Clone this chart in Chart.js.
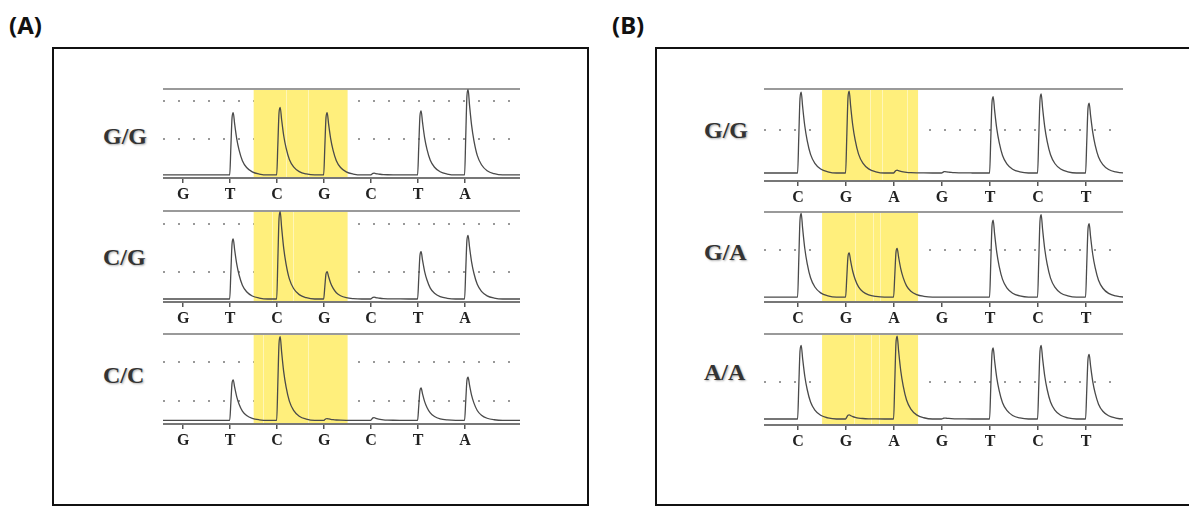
<!DOCTYPE html>
<html>
<head>
<meta charset="utf-8">
<script src="https://cdn.jsdelivr.net/npm/chart.js@4.4.1/dist/chart.umd.min.js"></script>
<style>
    body { margin: 0; background: #fff; width: 1189px; height: 507px; overflow: hidden; position: relative; }
    .panel-tag { position: absolute; font-family: "Noto Sans", sans-serif; font-weight: bold; font-size: 24px; color: #111; }
    .frame { position: absolute; border: 2.5px solid #111; box-sizing: border-box; }
    .geno { position: absolute; font-family: "Liberation Serif", serif; font-weight: bold; font-size: 24px; color: #333; text-shadow: 1px 1px 2px #aaa; line-height: 1; }
    canvas { position: absolute; }
</style>
</head>
<body>
<div class="panel-tag" style="left:9px; top:8px;">(A)</div>
<div class="panel-tag" style="left:612px; top:8px;">(B)</div>
<div class="frame" style="left:52px; top:47px; width:537px; height:459px;"></div>
<div class="frame" style="left:655px; top:47px; width:560px; height:459px;"></div>

<div class="geno" style="left:103px; top:124px;">G/G</div>
<div class="geno" style="left:103px; top:245px;">C/G</div>
<div class="geno" style="left:103px; top:363px;">C/C</div>
<div class="geno" style="left:704px; top:118px;">G/G</div>
<div class="geno" style="left:704px; top:240px;">G/A</div>
<div class="geno" style="left:704px; top:360px;">A/A</div>

<canvas id="traceA1"></canvas>
<canvas id="traceA2"></canvas>
<canvas id="traceA3"></canvas>
<canvas id="traceB1"></canvas>
<canvas id="traceB2"></canvas>
<canvas id="traceB3"></canvas>

<script>
// dispensation order
const lettersA = ["G", "T", "C", "G", "C", "T", "A"];
const lettersB = ["C", "G", "A", "G", "T", "C", "T"];

// peak heights above baseline (fraction of trace height)
const peaksA1 = [0, 0.70, 0.76, 0.70, 0.02, 0.72, 0.96];
const peaksA2 = [0, 0.66, 0.96, 0.30, 0.02, 0.52, 0.70];
const peaksA3 = [0, 0.45, 0.93, 0.02, 0.03, 0.36, 0.48];
const peaksB1 = [0.88, 0.89, 0.03, 0.015, 0.83, 0.86, 0.76];
const peaksB2 = [0.93, 0.49, 0.54, 0, 0.855, 0.915, 0.815];
const peaksB3 = [0.81, 0.045, 0.91, 0.01, 0.78, 0.81, 0.71];

const baselineA = [0.034, 0.033, 0.04];
const baselineB = [0.087, 0.055, 0.066];

// dotted guide lines
const gridA1 = [0.44, 0.865];
const gridA2 = [0.33, 0.86];
const gridA3 = [0.26, 0.69];
const gridB1 = [0.55];
const gridB2 = [0.58];
const gridB3 = [0.47];

// highlighted SNP window (in dispensation index)
const highlightA = [1.5, 3.5];
const highlightB = [0.5, 2.5];

// faint white seams inside the yellow band
const seamsA1 = [2.19, 2.66];
const seamsA2 = [1.9, 2.34];
const seamsA3 = [1.7, 2.66];
const seamsB1 = [1.5, 1.75, 2.27];
const seamsB2 = [1.19, 1.56, 1.71];
const seamsB3 = [1.17, 1.52, 1.69];

const xRangeA = [-0.43, 7.17];
const xRangeB = [-0.71, 6.77];

// shape of one peak: offset after the dispensation, fraction of its height
const peakShapeDx = [-0.01, 0.015, 0.04, 0.065, 0.095, 0.14, 0.19, 0.26, 0.35, 0.47, 0.62, 0.8];
const peakShapeF = [0, 0.45, 0.92, 1.0, 0.82, 0.58, 0.4, 0.23, 0.12, 0.05, 0.015, 0];

const AXIS_HEIGHT = 30;

const highlightPlugin = {
    id: "highlight",
    beforeDatasetsDraw: function (chart, args, opts) {
        const area = chart.chartArea;
        const xs = chart.scales.x;
        const ctx = chart.ctx;
        const x0 = xs.getPixelForValue(opts.range[0]);
        const x1 = xs.getPixelForValue(opts.range[1]);
        ctx.save();
        ctx.fillStyle = "#FFEF7C";
        ctx.fillRect(x0, area.top + 1, x1 - x0, area.bottom - area.top - 2);
        ctx.strokeStyle = "rgba(255,255,255,0.45)";
        ctx.lineWidth = 1;
        opts.seams.forEach(function (s) {
            const px = Math.round(xs.getPixelForValue(s)) + 0.5;
            ctx.beginPath();
            ctx.moveTo(px, area.top + 1);
            ctx.lineTo(px, area.bottom - 1);
            ctx.stroke();
        });
        ctx.restore();
    }
};

function buildTrace(peaks, base, range) {
    const pts = [{ x: range[0], y: base }];
    peaks.forEach(function (h, i) {
        if (h <= 0) return;
        for (let k = 0; k < peakShapeDx.length; k++) {
            pts.push({ x: i + peakShapeDx[k], y: base + h * peakShapeF[k] });
        }
    });
    pts.push({ x: range[1], y: base });
    return pts;
}

function makeTrace(id, box, letters, peaks, base, grid, range, highlight, seams) {
    const canvas = document.getElementById(id);
    canvas.width = box.width;
    canvas.height = box.axis - box.top + 2 + AXIS_HEIGHT;
    canvas.style.left = box.left + "px";
    canvas.style.top = (box.top - 2) + "px";

    const yTicks = grid.concat([1]);

    new Chart(canvas.getContext("2d"), {
        type: "line",
        data: {
            datasets: [{
                data: buildTrace(peaks, base, range),
                borderColor: "#4a4a4a",
                borderWidth: 1.3,
                pointRadius: 0,
                cubicInterpolationMode: "monotone",
                fill: false
            }]
        },
        options: {
            responsive: false,
            animation: false,
            layout: { padding: { top: 2, left: 0, right: 0, bottom: 0 } },
            plugins: {
                legend: { display: false },
                tooltip: { enabled: false },
                highlight: { range: highlight, seams: seams }
            },
            scales: {
                x: {
                    type: "linear",
                    min: range[0],
                    max: range[1],
                    afterBuildTicks: function (scale) {
                        scale.ticks = letters.map(function (l, i) { return { value: i }; });
                    },
                    afterFit: function (scale) {
                        scale.height = AXIS_HEIGHT;
                    },
                    ticks: {
                        autoSkip: false,
                        maxRotation: 0,
                        padding: 2,
                        color: "#222",
                        font: { family: "Liberation Serif", weight: "bold", size: 16 },
                        callback: function (value) {
                            return letters[value];
                        }
                    },
                    grid: {
                        drawOnChartArea: false,
                        drawTicks: true,
                        tickLength: 5,
                        color: "#555",
                        lineWidth: 1.5
                    },
                    border: { display: true, color: "#777", width: 2 }
                },
                y: {
                    min: 0,
                    max: 1,
                    afterBuildTicks: function (scale) {
                        scale.ticks = yTicks.map(function (v) { return { value: v }; });
                    },
                    ticks: { display: false },
                    grid: {
                        drawTicks: false,
                        color: function (c) {
                            return c.tick && c.tick.value === 1 ? "#9a9a9a" : "#999";
                        },
                        lineWidth: 2
                    },
                    border: {
                        display: false,
                        dash: function (c) {
                            return c.tick && c.tick.value === 1 ? [] : [2, 13];
                        }
                    }
                }
            }
        },
        plugins: [highlightPlugin]
    });
}

document.addEventListener("DOMContentLoaded", function () {
    const boxA = [
        { left: 163, width: 357, top: 89, axis: 178 },
        { left: 163, width: 357, top: 211, axis: 302 },
        { left: 163, width: 357, top: 334, axis: 424 }
    ];
    const boxB = [
        { left: 764, width: 359, top: 89, axis: 181 },
        { left: 764, width: 359, top: 212, axis: 302 },
        { left: 764, width: 359, top: 334, axis: 425 }
    ];

    makeTrace("traceA1", boxA[0], lettersA, peaksA1, baselineA[0], gridA1, xRangeA, highlightA, seamsA1);
    makeTrace("traceA2", boxA[1], lettersA, peaksA2, baselineA[1], gridA2, xRangeA, highlightA, seamsA2);
    makeTrace("traceA3", boxA[2], lettersA, peaksA3, baselineA[2], gridA3, xRangeA, highlightA, seamsA3);
    makeTrace("traceB1", boxB[0], lettersB, peaksB1, baselineB[0], gridB1, xRangeB, highlightB, seamsB1);
    makeTrace("traceB2", boxB[1], lettersB, peaksB2, baselineB[1], gridB2, xRangeB, highlightB, seamsB2);
    makeTrace("traceB3", boxB[2], lettersB, peaksB3, baselineB[2], gridB3, xRangeB, highlightB, seamsB3);
});
</script>
</body>
</html>
